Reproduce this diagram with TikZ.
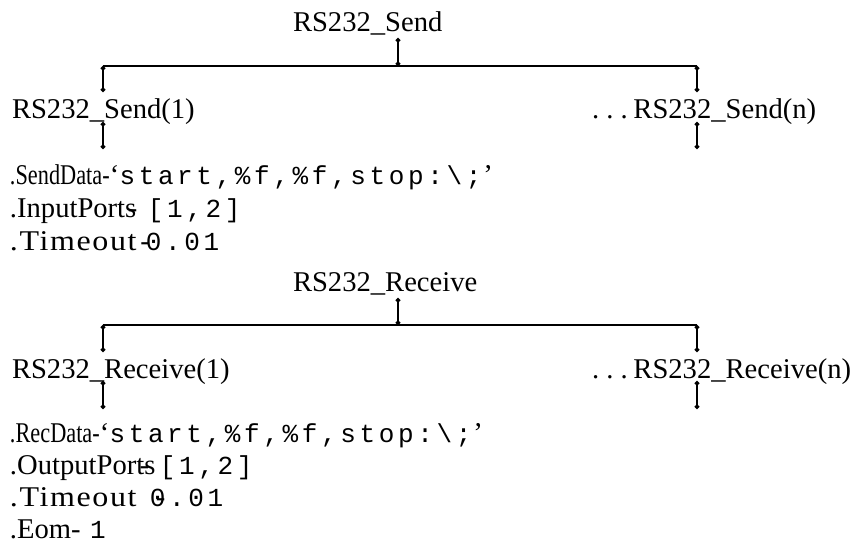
\documentclass[tikz,border=0pt]{standalone}
\usepackage{fontspec}
\usepackage{graphicx}
\setmainfont{Liberation Serif}
\newfontfamily\codefont[LetterSpace=14]{Liberation Mono}
\usetikzlibrary{positioning,calc,arrows.meta}

% property name squeezed or spread into a fixed width
\newcommand{\squeezed}[2]{\makebox[#1][l]{\scalebox{0.78}[1]{#2}}}
\newcommand{\spread}[2]{\makebox[#1][l]{\scalebox{1.12}[1]{\addfontfeature{LetterSpace=5}#2}}}
\newcommand{\code}[1]{{\fontsize{13}{15}\codefont #1}}

\begin{document}
\begin{tikzpicture}[x=0.5pt,y=-0.5pt,
		every node/.style={outer sep=0pt,inner sep=0pt,anchor=base west,font=\fontsize{14.3}{17}\selectfont},
		wire/.style={line width=1pt},
		tap/.style={line width=1pt,{Circle[length=2.2pt]}-{Circle[length=2.2pt]}}
		]
		\useasboundingbox (0,0) rectangle (857,553);

		% send tree
		\node (send) at (293,31) {RS232\_Send};
		\coordinate (sendtap) at (398,38);
		\coordinate (sendL) at (103,66);
		\coordinate (sendR) at (697,66);
		\coordinate (sendM) at (398,66);
		\node (send1) at (12,118) {RS232\_Send(1)};
		\node (sendn) at (592,118) {.\kern.25em.\kern.25em.\kern.2em RS232\_Send(n)};
		\coordinate (send1a) at (103,92);
		\coordinate (send1b) at (103,122);
		\coordinate (send1c) at (103,149);
		\coordinate (sendna) at (697,92);
		\coordinate (sendnb) at (697,122);
		\coordinate (sendnc) at (697,149);

		\draw[wire] (sendL) -- (sendR);
		\draw[tap] (sendtap) -- (sendM);
		\draw[tap] (sendL) -- (send1a);
		\draw[tap] (send1b) -- (send1c);
		\draw[tap] (sendR) -- (sendna);
		\draw[tap] (sendnb) -- (sendnc);

		\node (senddata) at (10,184) {\squeezed{50pt}{.SendData-}‘\code{start,\%f,\%f,stop:\textbackslash;}\kern1pt’};
		\node (inports) at (10,217) {\makebox[69pt][l]{.InputPorts\kern-.3em-}\code{[1,2]}};
		\node (sendtime) at (10,250) {\spread{68pt}{.Timeout}\llap{-\kern-2pt}\code{0.01}};

		% receive tree
		\node (recv) at (293,291) {RS232\_Receive};
		\coordinate (recvtap) at (398,298);
		\coordinate (recvL) at (103,325);
		\coordinate (recvR) at (697,325);
		\coordinate (recvM) at (398,325);
		\node (recv1) at (12,378) {RS232\_Receive(1)};
		\node (recvn) at (592,378) {.\kern.25em.\kern.25em.\kern.2em RS232\_Receive(n)};
		\coordinate (recv1a) at (103,352);
		\coordinate (recv1b) at (103,381);
		\coordinate (recv1c) at (103,409);
		\coordinate (recvna) at (697,352);
		\coordinate (recvnb) at (697,381);
		\coordinate (recvnc) at (697,409);

		\draw[wire] (recvL) -- (recvR);
		\draw[tap] (recvtap) -- (recvM);
		\draw[tap] (recvL) -- (recv1a);
		\draw[tap] (recv1b) -- (recv1c);
		\draw[tap] (recvR) -- (recvna);
		\draw[tap] (recvnb) -- (recvnc);

		\node (recvdata) at (10,442) {\squeezed{45pt}{.RecData-}‘\code{start,\%f,\%f,stop:\textbackslash;}\kern1pt’};
		\node (outports) at (10,474) {\makebox[75pt][l]{.OutputPorts\kern-.55em-}\code{[1,2]}};
		\node (recvtime) at (10,506) {\spread{70pt}{.Timeout}\rlap{\kern3pt-}\code{0.01}};
		\node (eom) at (10,538) {\makebox[40pt][l]{.Eom-}\code{1}};
	\end{tikzpicture}
\end{document}
